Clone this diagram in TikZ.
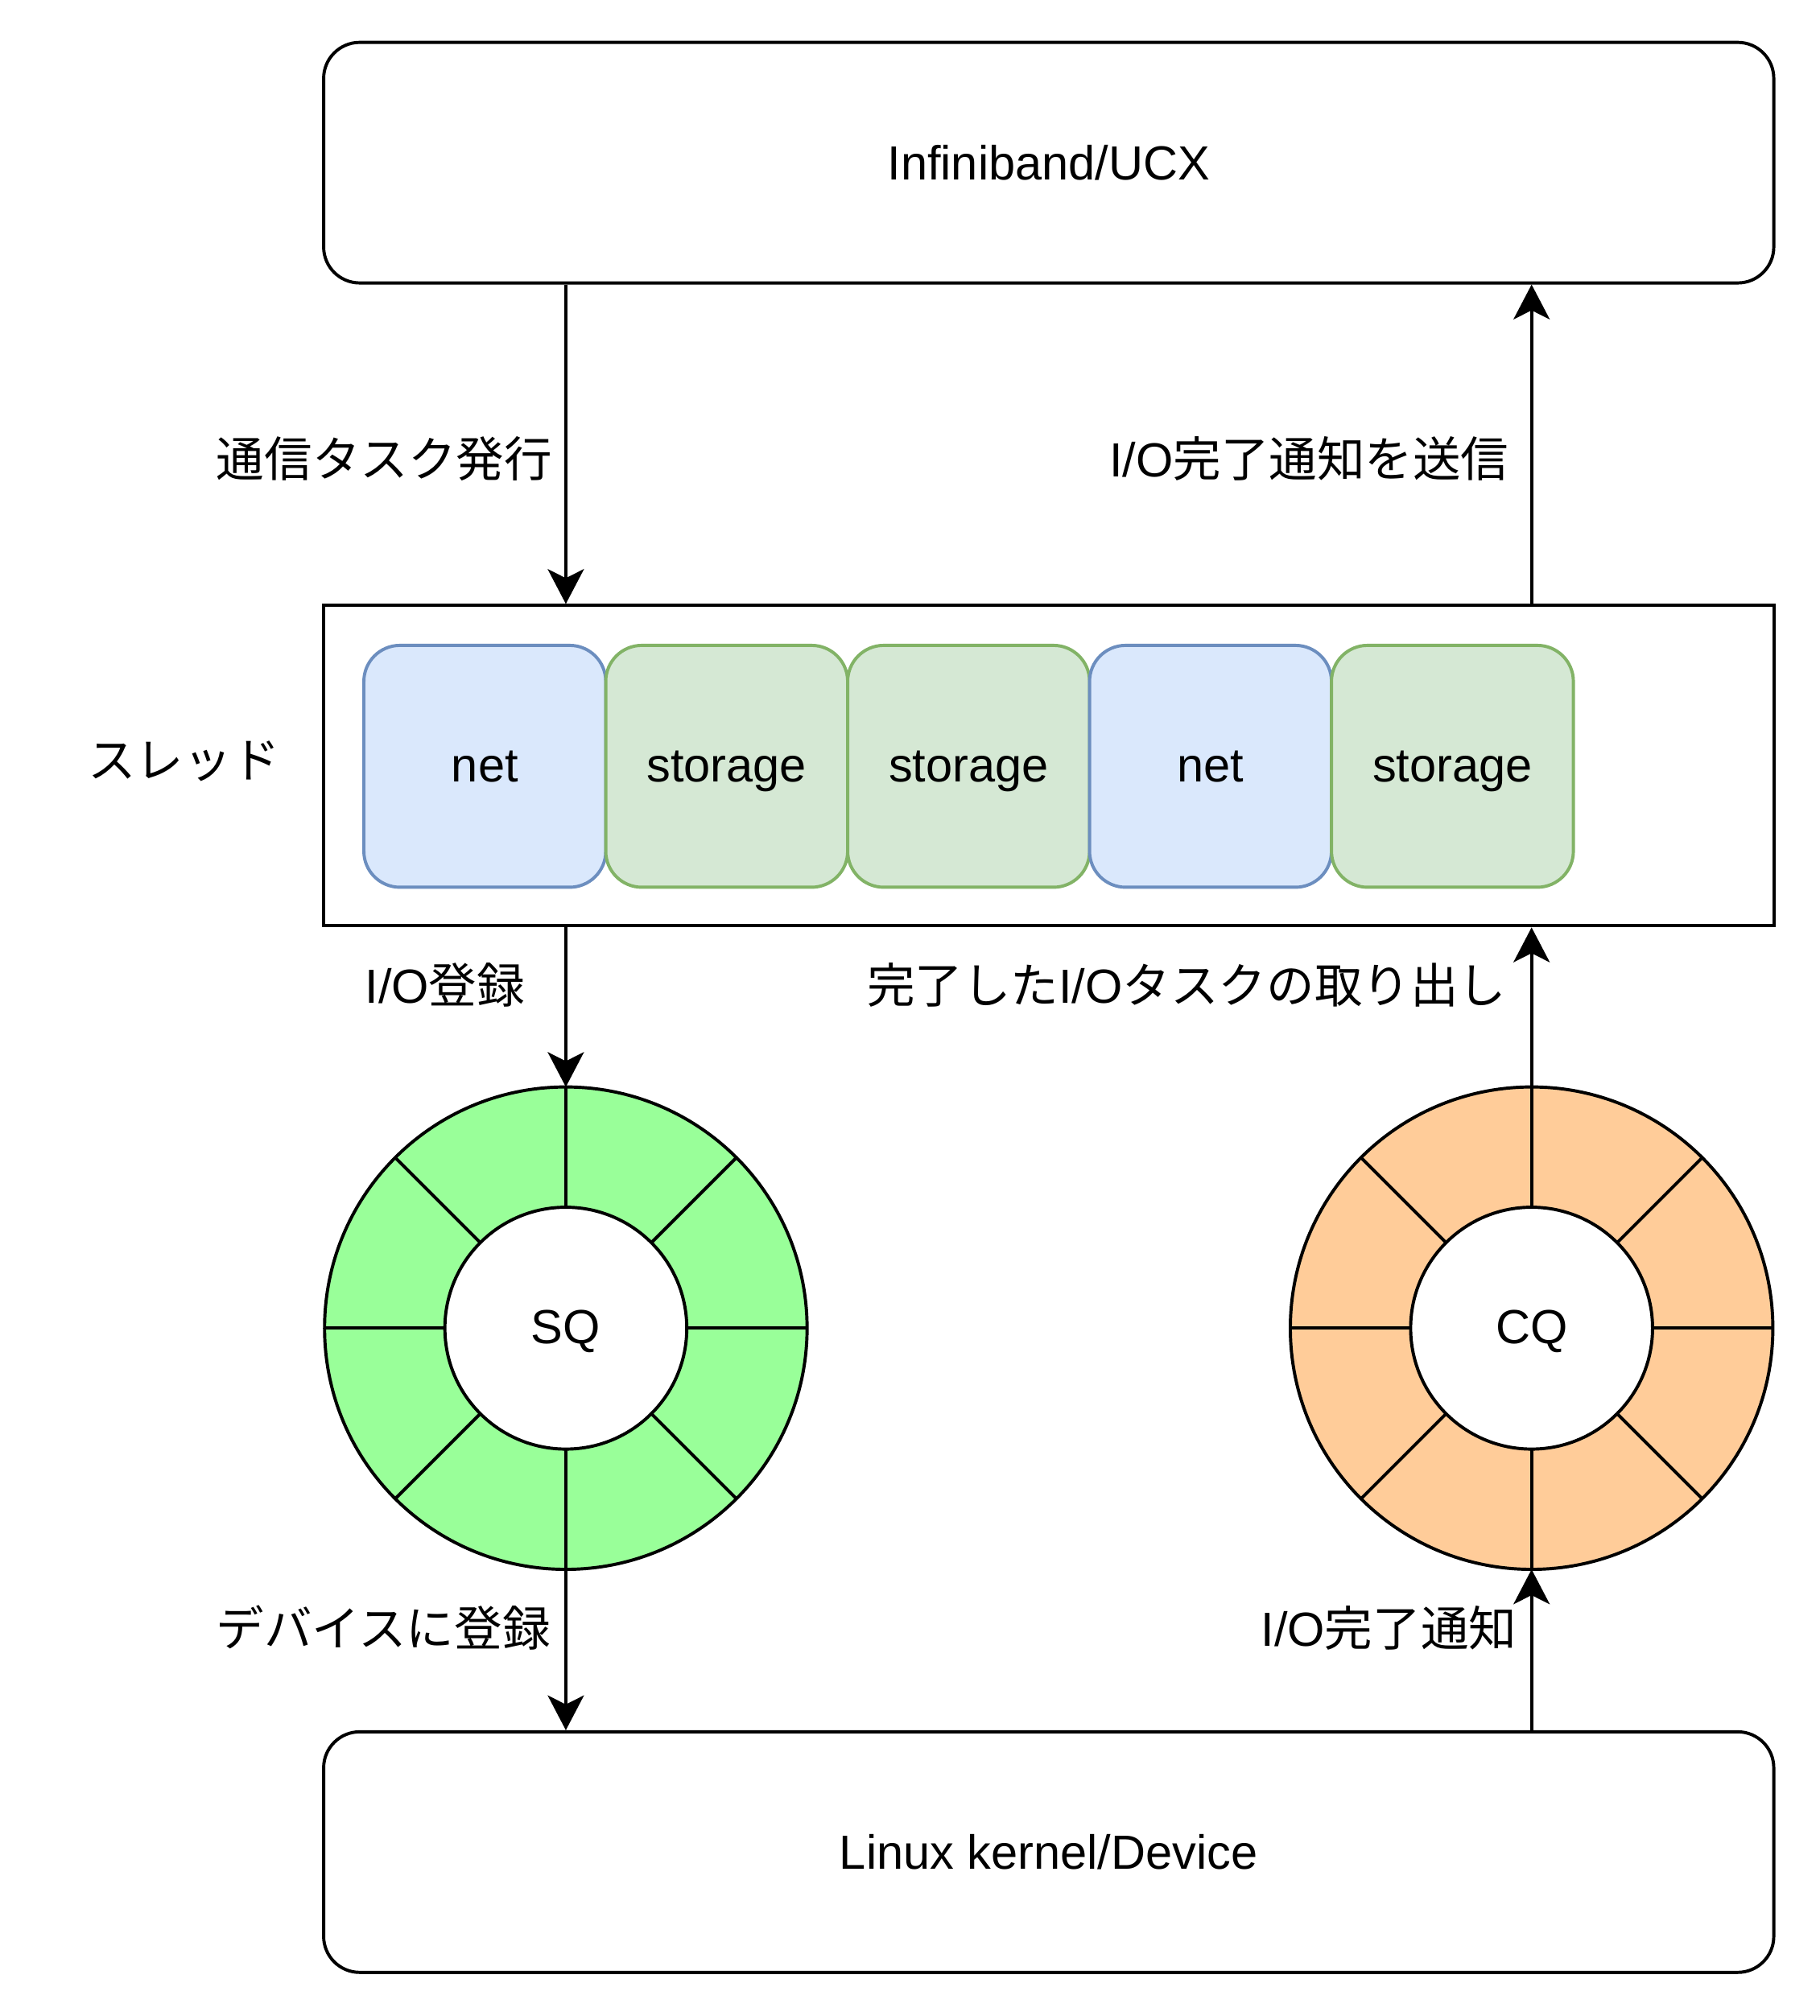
\documentclass[tikz,border=0pt]{standalone}
\usepackage{fontspec}
\setmainfont{Liberation Sans}
\newfontfamily\jpfont{Noto Sans CJK JP}
\newcommand{\jp}[1]{{\jpfont #1}}
\usepackage{tikz}
\usetikzlibrary{positioning,arrows.meta}
\usepackage{xcolor}
\definecolor{netfill}{HTML}{DAE8FC}
\definecolor{netline}{HTML}{6C8EBF}
\definecolor{storefill}{HTML}{D5E8D4}
\definecolor{storeline}{HTML}{82B366}
\definecolor{sqfill}{HTML}{99FF99}
\definecolor{cqfill}{HTML}{FFCC99}
\tikzset{
  every node/.style={font=\fontsize{10.6}{12.7}\selectfont},
  layerbox/.style={draw, rounded corners=0.28cm, fill=white, line width=0.7pt,
              minimum width=11.27cm, minimum height=1.87cm},
  threadbox/.style={draw, fill=white, line width=0.7pt,
              minimum width=11.27cm, minimum height=2.49cm},
  netbox/.style={draw=netline, fill=netfill, rounded corners=0.28cm, line width=0.7pt,
              minimum size=1.88cm, outer sep=0pt, text height=0.9em, text depth=0.2em},
  storebox/.style={draw=storeline, fill=storefill, rounded corners=0.28cm, line width=0.7pt,
              minimum size=1.88cm, outer sep=0pt, text height=0.9em, text depth=0.2em},
  ring/.style={circle, draw, line width=0.7pt, minimum size=3.75cm, inner sep=0pt, outer sep=0pt},
  hole/.style={circle, draw, fill=white, line width=0.7pt, minimum size=1.88cm, inner sep=0pt,
              text height=0.9em, text depth=0.2em},
  lbl/.style={inner sep=0pt},
  flow/.style={->, line width=0.7pt},
  >={Stealth[length=7.7pt, width=8pt, inset=2pt]},
}
\begin{document}
\begin{tikzpicture}[x=0.01cm, y=-0.01cm, node distance=0pt]
\useasboundingbox (0,0) rectangle (1415,1568);
% layers
\node[layerbox] (ucx) at (815.5,126.5) {Infiniband/UCX};
\node[threadbox] (thread) at (815.5,595.5) {};
\node[layerbox] (kernel) at (815.5,1440.5) {Linux kernel/Device};
% tasks in the thread
\node[netbox] (t1) at (377,596) {net};
\node[storebox, right=of t1] (t2) {storage};
\node[storebox, right=of t2] (t3) {storage};
\node[netbox, right=of t3] (t4) {net};
\node[storebox, right=of t4] (t5) {storage};
% queues
\node[ring, fill=sqfill] (sqring) at (440,1033) {};
\node[ring, fill=cqfill] (cqring) at (1191,1033) {};
\foreach \q in {sqring,cqring}
  \foreach \a in {0,45,...,315}
    \draw[line width=0.7pt] (\q.center) -- ++(\a:1.875cm);
\node[hole] (sq) at (sqring.center) {SQ};
\node[hole] (cq) at (cqring.center) {CQ};

\draw[flow] (ucx.south -| sqring) -- (thread.north -| sqring);
\draw[flow] (thread.north -| cqring) -- (ucx.south -| cqring);
\draw[flow] (thread.south -| sqring) -- (sqring.north);
\draw[flow] (cqring.north) -- (thread.south -| cqring);
\draw[flow] (sqring.south) -- (kernel.north -| sqring);
\draw[flow] (kernel.north -| cqring) -- (cqring.south);

% labels
\node[lbl, anchor=east] (issue) at (430,357) {\jp{通信タスク発行}};
\node[lbl, anchor=east] (notify) at (1174,357) {I/O\jp{完了通知を送信}};
\node[lbl] (threadlbl) at (143,592) {\jp{スレッド}};
\node[lbl] (regist) at (346,766) {I/O\jp{登録}};
\node[lbl, anchor=east] (fetch) at (1172,766) {\jp{完了した}I/O\jp{タスクの取り出し}};
\node[lbl] (submit) at (298,1266) {\jp{デバイスに登録}};
\node[lbl] (done) at (1080,1266) {I/O\jp{完了通知}};
\end{tikzpicture}
\end{document}
